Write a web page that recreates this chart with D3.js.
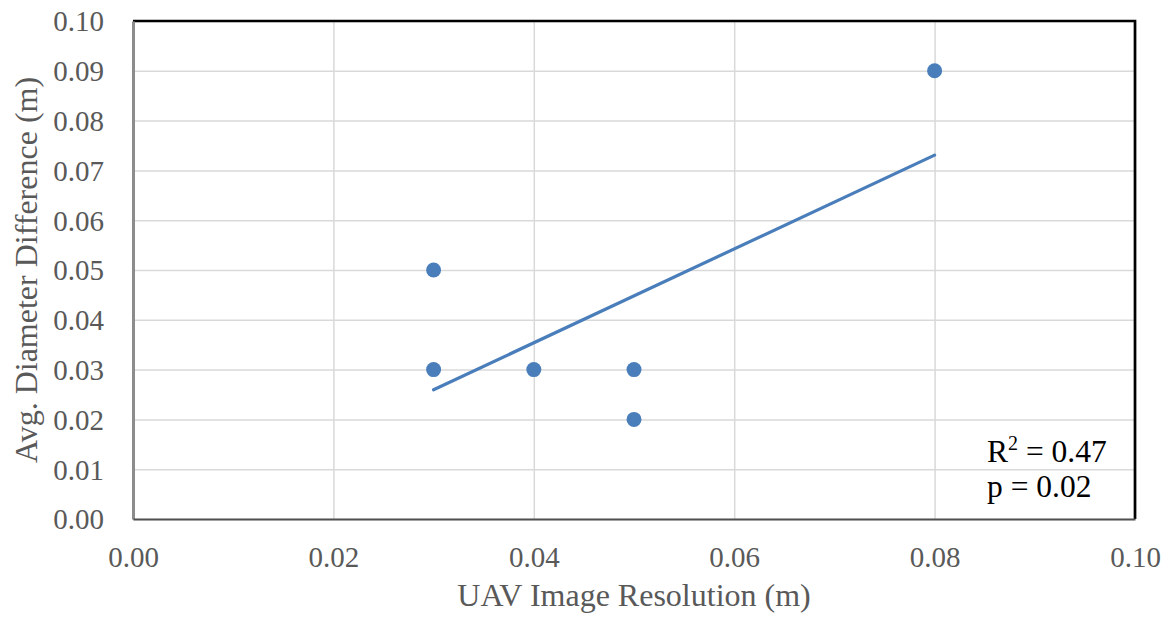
<!DOCTYPE html>
<html>
<head>
<meta charset="utf-8">
<script src="https://cdn.jsdelivr.net/npm/d3@7"></script>
<style>
  body { margin: 0; background: #fff; }
  svg text { font-family: "Liberation Serif", "Times New Roman", serif; }
</style>
</head>
<body>
<div id="viz"></div>
<script>
// data
var resolution = [0.03, 0.03, 0.04, 0.05, 0.05, 0.08];
var diameterDiff = [0.05, 0.03, 0.03, 0.03, 0.02, 0.09];
var xTicks = [0.00, 0.02, 0.04, 0.06, 0.08, 0.10];
var yTicks = [0.00, 0.01, 0.02, 0.03, 0.04, 0.05, 0.06, 0.07, 0.08, 0.09, 0.10];
var statLines = ["= 0.47", "p = 0.02"];

var canw = 1174, canh = 622;
var m = {left: 133, right: 39, top: 21, bottom: 103};
var w = canw - m.left - m.right, h = canh - m.top - m.bottom;

var svg = d3.select("#viz").append("svg")
    .attr("width", canw)
    .attr("height", canh);

var x = d3.scaleLinear().domain([0, 0.10]).range([0, w]);
var y = d3.scaleLinear().domain([0, 0.10]).range([h, 0]);

var g = svg.append("g").attr("transform", "translate(" + m.left + "," + m.top + ")");

// gridlines
g.append("g")
    .call(d3.axisLeft(y).tickValues(yTicks).tickSize(-w).tickFormat(""))
    .call(function(a){ a.select(".domain").remove(); })
    .selectAll("line").attr("stroke", "#d9d9d9").attr("stroke-width", 1.5);
g.append("g")
    .attr("transform", "translate(0," + h + ")")
    .call(d3.axisBottom(x).tickValues(xTicks).tickSize(-h).tickFormat(""))
    .call(function(a){ a.select(".domain").remove(); })
    .selectAll("line").attr("stroke", "#d9d9d9").attr("stroke-width", 1.5);

// frame: black top/right
g.append("path")
    .attr("d", "M0,0H" + w + "V" + h)
    .attr("fill", "none")
    .attr("stroke", "#000")
    .attr("stroke-width", 2.7);

// tick labels
var yax = g.append("g")
    .call(d3.axisLeft(y).tickValues(yTicks).tickSize(0).tickPadding(29).tickFormat(d3.format(".2f")));
yax.select(".domain").attr("stroke", "#8c8c8c").attr("stroke-width", 3);
yax.selectAll("text")
    .attr("font-size", 29)
    .attr("fill", "#595959")
    .attr("dy", "0.34em");

var xax = g.append("g")
    .attr("transform", "translate(0," + h + ")")
    .call(d3.axisBottom(x).tickValues(xTicks).tickSize(0).tickPadding(27).tickFormat(d3.format(".2f")));
xax.select(".domain").attr("stroke", "#505050").attr("stroke-width", 2);
xax.selectAll("text")
    .attr("font-size", 29)
    .attr("fill", "#595959");

// trend line (least squares)
var mx = d3.mean(resolution), my = d3.mean(diameterDiff);
var sxy = d3.sum(resolution, function(v, i){ return (v - mx) * (diameterDiff[i] - my); });
var sxx = d3.sum(resolution, function(v){ return (v - mx) * (v - mx); });
var slope = sxy / sxx, icpt = my - slope * mx;
var ext = d3.extent(resolution);
g.append("line")
    .attr("x1", x(ext[0])).attr("y1", y(icpt + slope * ext[0]))
    .attr("x2", x(ext[1])).attr("y2", y(icpt + slope * ext[1]))
    .attr("stroke", "#4a7ebb")
    .attr("stroke-width", 3.2)
    .attr("stroke-linecap", "round");

// points
g.selectAll("circle.pt")
    .data(resolution)
    .enter().append("circle")
    .attr("class", "pt")
    .attr("cx", function(d){ return x(d); })
    .attr("cy", function(d, i){ return y(diameterDiff[i]); })
    .attr("r", 7.5)
    .attr("fill", "#4a7ebb");

// stats box text
var r2 = svg.append("text")
    .attr("x", 987).attr("y", 462)
    .attr("font-size", 31.5)
    .attr("fill", "#000");
r2.append("tspan").text("R");
r2.append("tspan").attr("dy", -12).attr("font-size", 20).text("2");
r2.append("tspan").attr("dy", 12).text(" " + statLines[0]);
svg.append("text")
    .attr("x", 987).attr("y", 497)
    .attr("font-size", 31.5)
    .attr("fill", "#000")
    .text(statLines[1]);

// axis titles
svg.append("text")
    .attr("x", m.left + w / 2).attr("y", 606)
    .attr("text-anchor", "middle")
    .attr("font-size", 32)
    .attr("fill", "#595959")
    .text("UAV Image Resolution (m)");
svg.append("text")
    .attr("transform", "translate(37," + (m.top + h / 2) + ") rotate(-90)")
    .attr("text-anchor", "middle")
    .attr("font-size", 32)
    .attr("fill", "#595959")
    .text("Avg. Diameter Difference (m)");
</script>
</body>
</html>
